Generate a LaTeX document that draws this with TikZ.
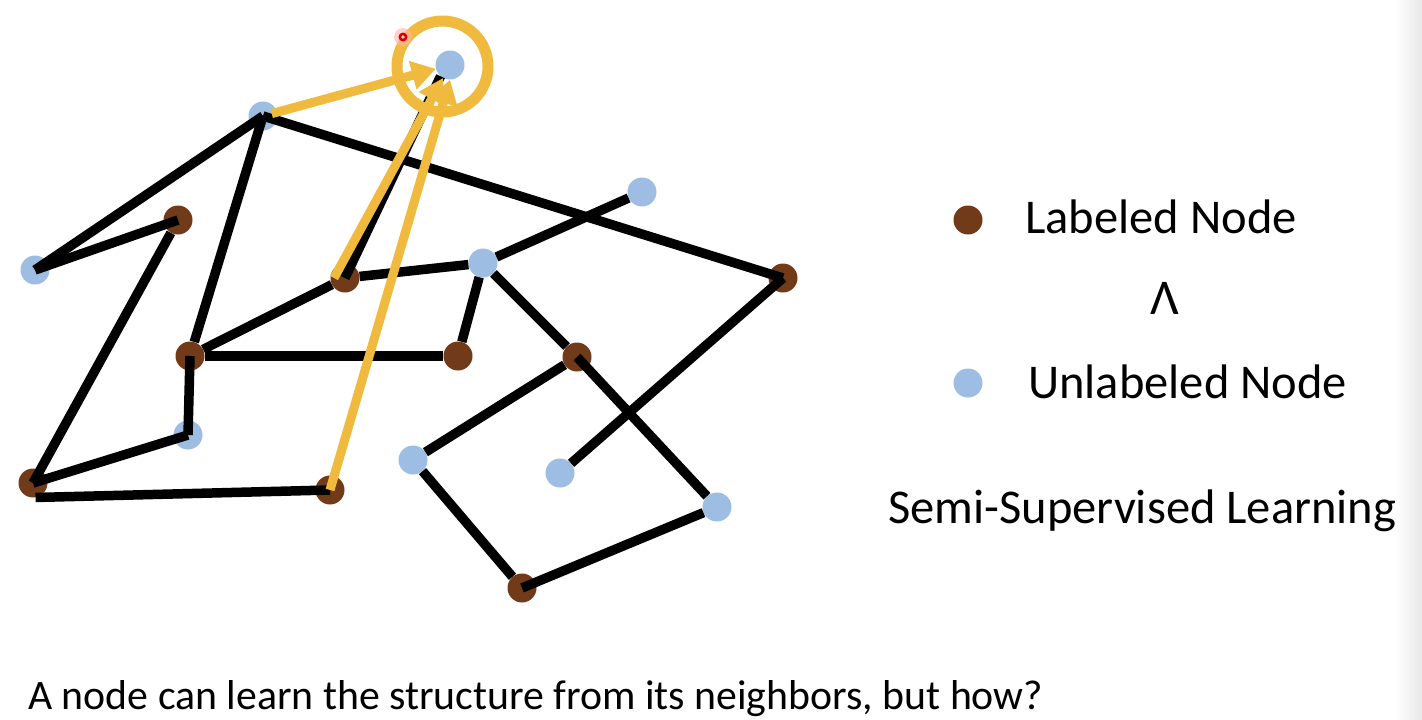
\documentclass[tikz,border=0pt]{standalone}
\usepackage{fontspec}
\setmainfont{Carlito}
\usetikzlibrary{arrows.meta}
\definecolor{lbrown}{RGB}{113,58,25}
\definecolor{ublue}{RGB}{157,189,226}
\definecolor{hlorange}{RGB}{240,186,62}
\tikzset{
  lab/.style={circle,fill=lbrown,inner sep=0pt,minimum size=29pt},
  unl/.style={circle,fill=ublue,inner sep=0pt,minimum size=29pt},
  edge/.style={line width=9.5pt,black},
  flow/.style={line width=9pt,hlorange,-{Triangle[length=24pt,width=28pt]}},
  txt/.style={anchor=base west,inner sep=0pt,font=\fontsize{48.5}{56}\selectfont},
  foot/.style={anchor=base west,inner sep=0pt,font=\fontsize{41.8}{48}\selectfont}
}
\begin{document}
\begin{tikzpicture}[x=1pt,y=-1pt]
\useasboundingbox (0,0) rectangle (1422,720);
\fill[white] (0,0) rectangle (1422,720);
\shade[left color=white,right color=black!9] (1395,0) rectangle (1422,720);

% nodes
\node[unl] (T) at (450,65) {};
\node[unl] (A) at (263,116) {};
\node[lab] (B) at (178,220) {};
\node[unl] (C) at (35,270) {};
\node[unl] (D) at (642,192) {};
\node[unl] (E) at (483,263) {};
\node[lab] (F) at (345,278) {};
\node[lab] (G) at (783,278) {};
\node[lab] (H) at (190,356) {};
\node[lab] (I) at (458,356) {};
\node[lab] (J) at (577,357) {};
\node[unl] (K) at (188,435) {};
\node[lab] (L) at (33,483) {};
\node[lab] (M) at (330,490) {};
\node[unl] (N) at (413,460) {};
\node[unl] (O) at (560,473) {};
\node[unl] (P) at (717,507) {};
\node[lab] (Q) at (522,588) {};

% edges
\draw[edge] (A.center) -- (C.center);
\draw[edge] (C.center) -- (B.center);
\draw[edge] (B) -- (L.center);
\draw[edge] (A.center) -- (H);
\draw[edge] (A.center) -- (G.center);
\draw[edge] (H) -- (F);
\draw[edge] (F) -- (E);
\draw[edge] (E) -- (D);
\draw[edge] (E) -- (I);
\draw[edge] (E) -- (J);
\draw[edge] (J.center) -- (P);
\draw[edge] (J) -- (N);
\draw[edge] (N) -- (Q);
\draw[edge] (Q.center) -- (P);
\draw[edge] (G.center) -- (O);
\draw[edge] (H) -- (I);
\draw[edge] (H.center) -- (K.center);
\draw[edge] (K.center) -- (L.center);
\draw[edge] (L.-80) -- (M.center);
\draw[edge] (F.center) -- (T.-130);

% highlighted flows
\draw[flow,shorten <=9pt] (A.center) -- (T);
\draw[flow] ([xshift=-11pt]F.center) -- (T.-118);
\draw[flow] (M.center) -- (T.south);
\draw[hlorange,line width=11pt] (T.center) ++(-7.5,1.5) circle[radius=45.5];

% laser pointer dot
\fill[red!30,opacity=0.6] (403,37) circle[radius=9];
\fill[red!85!black] (403,37) circle[radius=4.5];
\fill[red!20] (403,37) circle[radius=1.8];

% legend
\node[lab] (lg1) at (968,220) {};
\node[unl] (lg2) at (968,383) {};
\node[txt] (t1) at (1025,233) {Labeled Node};
\node[anchor=base,inner sep=0pt,font=\fontsize{50}{56}\selectfont] (t2) at (1165,314) {Λ};
\node[txt] (t3) at (1028,398) {Unlabeled Node};
\node[txt] (t4) at (888,523) {Semi-Supervised Learning};
\node[foot] (t5) at (28,709) {A node can learn the structure from its neighbors, but how?};
\end{tikzpicture}
\end{document}
